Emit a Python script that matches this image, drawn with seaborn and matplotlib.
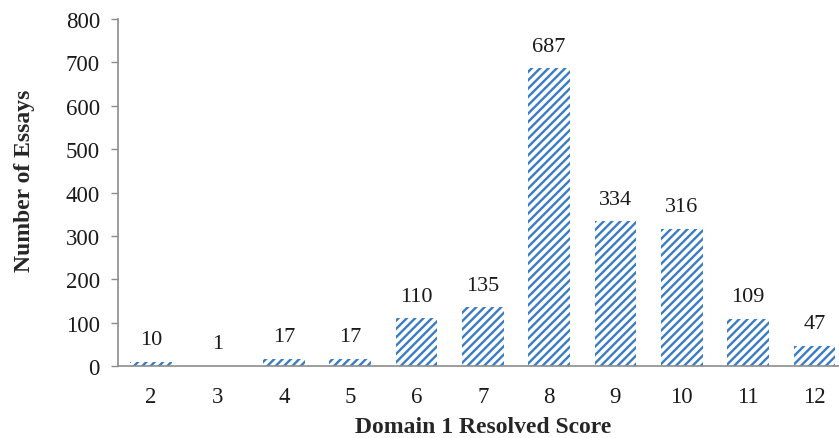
import matplotlib
matplotlib.use("Agg")
import matplotlib.pyplot as plt
import seaborn as sns

# data
scores = ["2", "3", "4", "5", "6", "7", "8", "9", "10", "11", "12"]
essays = [10, 1, 17, 17, 110, 135, 687, 334, 316, 109, 47]

sns.set_style("white")
plt.rcParams["font.family"] = ["Liberation Serif", "DejaVu Serif"]
plt.rcParams["hatch.linewidth"] = 1.7

blue = "#3a7cc4"
grey = "#8c8c8c"
txt = "#1a1a1a"

fig = plt.figure(figsize=(8.39, 4.39), dpi=100)
ax = fig.add_axes([0.1406, 0.164, 0.8594, 0.7904])

sns.barplot(x=scores, y=essays, color="white", width=0.63, ax=ax, order=scores)
for p in ax.patches:
    p.set_facecolor("white")
    p.set_edgecolor(blue)
    p.set_hatch("////")
    p.set_linewidth(0)

for c in ax.containers:
    ax.bar_label(c, padding=9, fontsize=16, color=txt)

ax.set_xlim(-0.5, 10.37)
ax.set_ylim(0, 800)
ax.set_yticks(range(0, 801, 100))

for s in ["top", "right"]:
    ax.spines[s].set_visible(False)
for s in ["left", "bottom"]:
    ax.spines[s].set_color(grey)
    ax.spines[s].set_linewidth(1.2)

ax.tick_params(axis="y", left=True, length=5, width=1, color=grey, pad=8, labelsize=16.5, labelcolor=txt)
ax.tick_params(axis="x", bottom=False, pad=11, labelsize=16.5, labelcolor=txt)

ax.set_xlabel("Domain 1 Resolved Score", fontsize=17, fontweight="bold")
ax.set_ylabel("Number of Essays", fontsize=17, fontweight="bold")
ax.xaxis.set_label_coords(0.506, -0.145)
ax.yaxis.set_label_coords(-0.13, 0.536)
ax.yaxis.label.set_verticalalignment("center")

fig.savefig("out.png", dpi=100)
